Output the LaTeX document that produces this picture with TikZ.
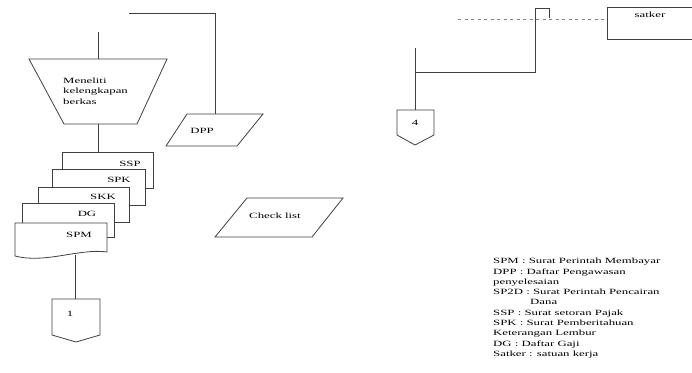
\documentclass[tikz,border=0pt]{standalone}
\usepackage{fontspec}
\setmainfont{Liberation Serif}[FakeStretch=1.6]
\begin{document}
\begin{tikzpicture}[x=1pt,y=-1pt,
  ln/.style={draw=black!75, line width=0.8pt},
  shp/.style={ln, fill=white},
  dotln/.style={draw=black!50, line width=1pt, dash pattern=on 3pt off 3.5pt},
  lbl/.style={font=\fontsize{8}{10.3}\selectfont, inner sep=0pt}]
\useasboundingbox (0,0) rectangle (692,372);
% manual operation
\coordinate (inTop) at (98,32);
\coordinate (mTop) at (98,59);
\coordinate (mBot) at (98,124);
\coordinate (sspTop) at (98,152);
\draw[shp] (29,59) -- (167,59) -- (137,124) -- (64,124) -- cycle;
\node[lbl, align=left, anchor=west] (meneliti) at (63,91) {Meneliti\\kelengkapan\\berkas};
\draw[ln] (inTop) -- (mTop);
\draw[ln] (mBot) -- (sspTop);
% documents
\draw[shp] (62,152) rectangle (153,188);
\draw[shp] (52,169) rectangle (145,205);
\draw[shp] (38,187) rectangle (129,222);
\draw[shp] (22,203) rectangle (114,237);
\draw[shp] (15,223) -- (107,223) -- (107,252) .. controls (80,248) and (45,264) .. (15,256) -- cycle;
\node[lbl] (ssp) at (130,164) {SSP};
\node[lbl] (spk) at (119,180) {SPK};
\node[lbl] (skk) at (103,197) {SKK};
\node[lbl] (dg) at (87,214) {DG};
\node[lbl] (spm) at (79,235) {SPM};
\coordinate (spmBot) at (75,254.5);
% connector 1
\coordinate (c1Top) at (75,299);
\draw[shp] (52,299) -- (100,299) -- (100,335) -- (76,342) -- (52,335) -- cycle;
\node[lbl] (one) at (70,314) {1};
\draw[ln] (spmBot) -- (c1Top);
% DPP
\coordinate (dppStart) at (129,13);
\coordinate (dppTop) at (215,118);
\draw[ln] (dppStart) -- (215,13) -- (dppTop);
\draw[shp] (187,114) -- (263,114) -- (237,146) -- (166,146) -- cycle;
\node[lbl] (dpp) at (202,131) {DPP};
% Check list
\draw[shp] (247,198) -- (343,198) -- (312,237) -- (215,237) -- cycle;
\node[lbl] (check) at (275,216) {Check list};
% right part
\coordinate (dotA) at (458,19);
\coordinate (dotB) at (607,19);
\draw[dotln] (dotA) -- (dotB);
\draw[ln] (695,7) -- (607,7) -- (607,39) -- (695,39);
\node[lbl] (satker) at (650,15) {satker};
\coordinate (jTop) at (535,72);
\coordinate (c4In) at (415,72);
\draw[ln] (c4In) -- (jTop) -- (535,8) -- (549,8) -- (549,18);
\coordinate (c4Line) at (415,48);
\coordinate (c4Top) at (415,110);
\draw[ln] (c4Line) -- (c4Top);
\draw[shp] (397,110) -- (434,110) -- (434,135) -- (415,145) -- (397,135) -- cycle;
\node[lbl] (four) at (415,123) {4};
% legend
\node[lbl, align=left, anchor=north west] (legend) at (493,258) {SPM : Surat Perintah Membayar\\
DPP : Daftar Pengawasan\\
penyelesaian\\
SP2D : Surat Perintah Pencairan\\
\hspace*{37pt}Dana\\
SSP : Surat setoran Pajak\\
SPK : Surat Pemberitahuan\\
Keterangan Lembur\\
DG : Daftar Gaji\\
Satker : satuan kerja};
\end{tikzpicture}
\end{document}
